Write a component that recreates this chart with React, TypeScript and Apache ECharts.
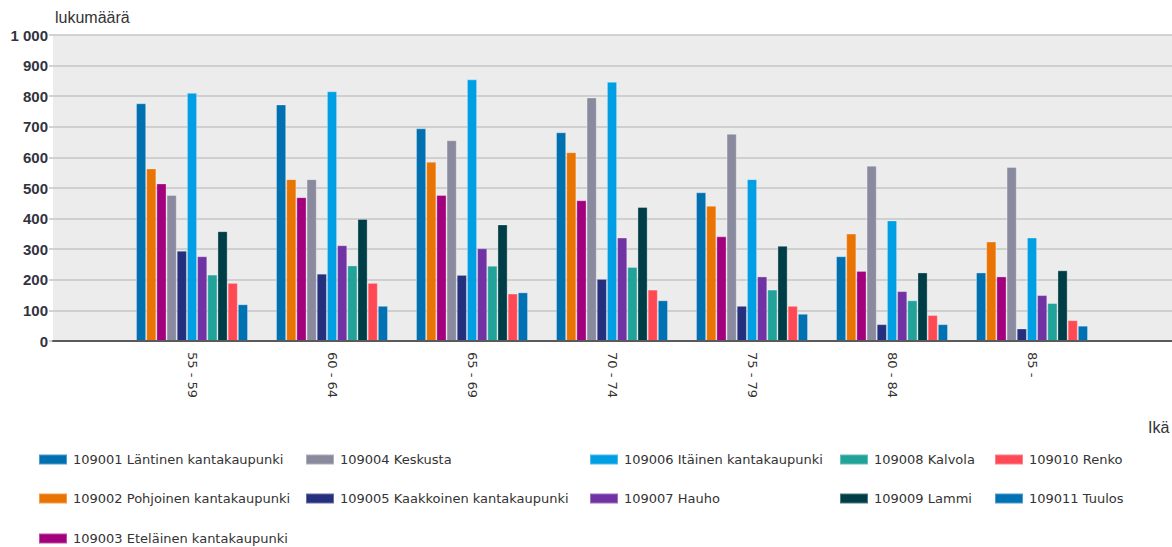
import React, { useEffect, useRef } from "react";
import * as echarts from "echarts";

const categories = ["55 - 59", "60 - 64", "65 - 69", "70 - 74", "75 - 79", "80 - 84", "85 -"];
const seriesNames = [
  "109001 Läntinen kantakaupunki",
  "109002 Pohjoinen kantakaupunki",
  "109003 Eteläinen kantakaupunki",
  "109004 Keskusta",
  "109005 Kaakkoinen kantakaupunki",
  "109006 Itäinen kantakaupunki",
  "109007 Hauho",
  "109008 Kalvola",
  "109009 Lammi",
  "109010 Renko",
  "109011 Tuulos",
];
const s109001 = [777, 773, 695, 682, 486, 277, 224];
const s109002 = [564, 529, 586, 617, 442, 351, 325];
const s109003 = [515, 470, 477, 460, 342, 229, 211];
const s109004 = [477, 529, 656, 796, 677, 573, 569];
const s109005 = [295, 220, 216, 203, 115, 55, 41];
const s109006 = [811, 816, 855, 847, 529, 394, 338];
const s109007 = [277, 313, 303, 338, 211, 163, 150];
const s109008 = [217, 247, 246, 242, 168, 133, 124];
const s109009 = [359, 399, 381, 438, 311, 224, 231];
const s109010 = [190, 190, 155, 168, 115, 85, 68];
const s109011 = [120, 115, 159, 133, 89, 55, 50];
const seriesValues = [s109001, s109002, s109003, s109004, s109005, s109006, s109007, s109008, s109009, s109010, s109011];
const colors = ["#0070B0", "#E97404", "#A3007D", "#8A8A9E", "#24307E", "#009FE3", "#7132A3", "#21A39A", "#003E47", "#FF4A55", "#0071B2"];
// legend layout: column index and row index for each series
const legendCol = [0, 0, 0, 1, 1, 2, 2, 3, 3, 4, 4];
const legendRow = [0, 1, 2, 0, 1, 0, 1, 0, 1, 0, 1];
const legendLefts = [38, 305, 589, 839, 994];
const legendRowCenters = [460, 499, 539];
const yTicks = { min: 0, max: 1000, interval: 100 };

const ARIAL = "'Liberation Sans', Arial, sans-serif";
const WIDE = "'DejaVu Sans', Verdana, sans-serif";

export default function App() {
  const ref = useRef<HTMLDivElement>(null);
  useEffect(() => {
    document.body.style.margin = "0";
    if (!ref.current) return;
    const chart = echarts.init(ref.current, undefined, { renderer: "svg" });
    const fmt = (v: number) => String(v).replace(/\B(?=(\d{3})+(?!\d))/g, " ");
    chart.setOption({
      animation: false,
      textStyle: { fontFamily: ARIAL },
      grid: [
        { left: 53, right: 0, top: 35, height: 306, show: true, backgroundColor: "#ececec", borderWidth: 0 },
        { left: 122, width: 980, top: 35, height: 306 },
      ],
      xAxis: [
        {
          type: "category",
          gridIndex: 0,
          data: [""],
          z: 5,
          axisLine: { show: true, lineStyle: { color: "#5a5a5a", width: 2 } },
          axisTick: { show: false },
          axisLabel: { show: false },
          splitLine: { show: false },
        },
        {
          type: "category",
          gridIndex: 1,
          data: categories,
          axisLine: { show: false },
          axisTick: { show: false },
          axisLabel: { rotate: -90, margin: 11, fontSize: 13, color: "#333", fontFamily: WIDE },
        },
      ],
      yAxis: [
        {
          type: "value",
          gridIndex: 0,
          min: yTicks.min,
          max: yTicks.max,
          interval: yTicks.interval,
          axisLine: { show: false },
          axisTick: { show: true, length: 4, lineStyle: { color: "#c4c4c4", width: 1.5 } },
          axisLabel: { fontSize: 15, fontWeight: "bold", color: "#33333f", margin: 5, formatter: fmt, fontFamily: ARIAL },
          splitLine: { show: true, lineStyle: { color: "#c6c6c6", width: 1.5 } },
        },
        {
          type: "value",
          gridIndex: 1,
          min: yTicks.min,
          max: yTicks.max,
          interval: yTicks.interval,
          show: false,
          splitLine: { show: false },
        },
      ],
      legend: seriesNames.map((name, i) => ({
        orient: "horizontal",
        left: legendLefts[legendCol[i]],
        top: legendRowCenters[legendRow[i]] - 7,
        padding: 0,
        itemWidth: 28,
        itemHeight: 10,
        icon: "rect",
        selectedMode: false,
        textStyle: { fontSize: 13, color: "#333", fontFamily: WIDE, padding: [0, 0, 0, 1] },
        data: [name],
      })),
      graphic: [
        { type: "text", left: 55, top: 9, style: { text: "lukumäärä", fontSize: 16, fill: "#333", fontFamily: ARIAL } },
        { type: "text", left: 1148, top: 419, style: { text: "Ikä", fontSize: 16, fill: "#333", fontFamily: ARIAL } },
      ],
      series: seriesNames.map((name, i) => ({
        type: "bar",
        name,
        xAxisIndex: 1,
        yAxisIndex: 1,
        data: seriesValues[i],
        barGap: "0%",
        barCategoryGap: "20%",
        itemStyle: { color: colors[i], borderColor: "rgba(255,255,255,0.3)", borderWidth: 1 },
      })),
    });
    return () => chart.dispose();
  }, []);
  return <div ref={ref} style={{ width: 1172, height: 547 }} />;
}
